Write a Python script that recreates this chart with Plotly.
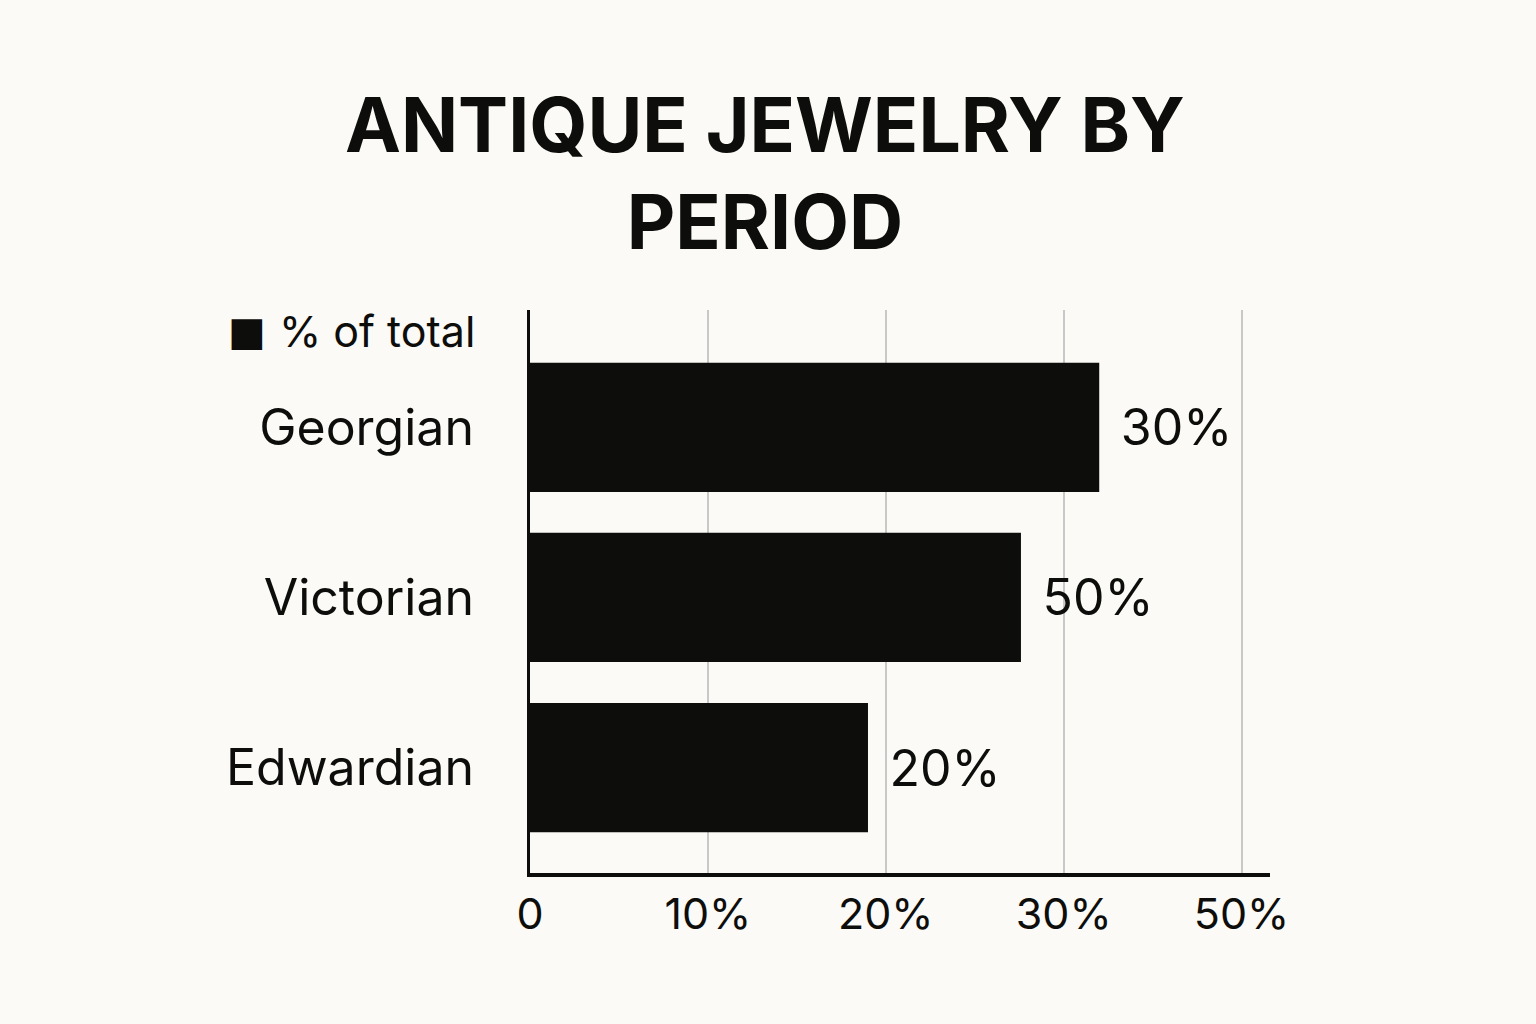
import plotly.graph_objects as go

periods = ["Georgian", "Victorian", "Edwardian"]
bar_lengths = [32, 27.6, 19]
bar_labels = ["30%", "50%", "20%"]
tick_vals = [0, 10, 20, 30, 40]
tick_text = ["0", "10%", "20%", "30%", "50%"]

INK = "#0d0d0b"
BG = "#fbfaf6"
FONT = "Inter, Liberation Sans, sans-serif"

fig = go.Figure(go.Bar(
    y=periods,
    x=bar_lengths,
    orientation="h",
    name="% of total",
    marker=dict(color=INK, line=dict(width=0)),
    width=0.76,
    text=[" \u200a" + t for t in bar_labels],
    textposition="outside",
    textfont=dict(size=50, color=INK, family=FONT),
    cliponaxis=False,
    showlegend=False,
))

fig.update_layout(
    width=1536,
    height=1024,
    paper_bgcolor=BG,
    plot_bgcolor=BG,
    font=dict(family=FONT, color=INK),
    margin=dict(l=530, r=266, t=310, b=151),
    title=dict(
        text="<b>ANTIQUE JEWELRY BY<br>PERIOD</b>",
        x=0.498, xanchor="center",
        y=0.852, yanchor="top",
        font=dict(size=75, color=INK, family=FONT),
    ),
    xaxis=dict(
        range=[0, 41.6],
        tickvals=tick_vals,
        ticktext=tick_text,
        tickfont=dict(size=43, color=INK),
        ticklabelstandoff=0,
        showgrid=True,
        gridcolor="#c8c8c8",
        gridwidth=2,
        zeroline=False,
        showline=True,
        linecolor=INK,
        linewidth=4,
    ),
    yaxis=dict(
        range=[2.62, -0.69],
        tickfont=dict(size=50, color=INK),
        ticklabelstandoff=43,
        showgrid=False,
        zeroline=False,
        showline=True,
        linecolor=INK,
        linewidth=3,
    ),
    annotations=[
        dict(text="■", xref="paper", yref="paper", x=-0.383, y=0.963,
             xanchor="center", yanchor="middle", showarrow=False,
             font=dict(size=40, color=INK, family="DejaVu Sans")),
        dict(text="% of total", xref="paper", yref="paper", x=-0.0716, y=0.963,
             xanchor="right", yanchor="middle", showarrow=False,
             font=dict(size=43, color=INK, family=FONT)),
    ],
)

fig.write_html("out.html", config={"displayModeBar": False},
               post_script="document.body.style.margin='0';")
